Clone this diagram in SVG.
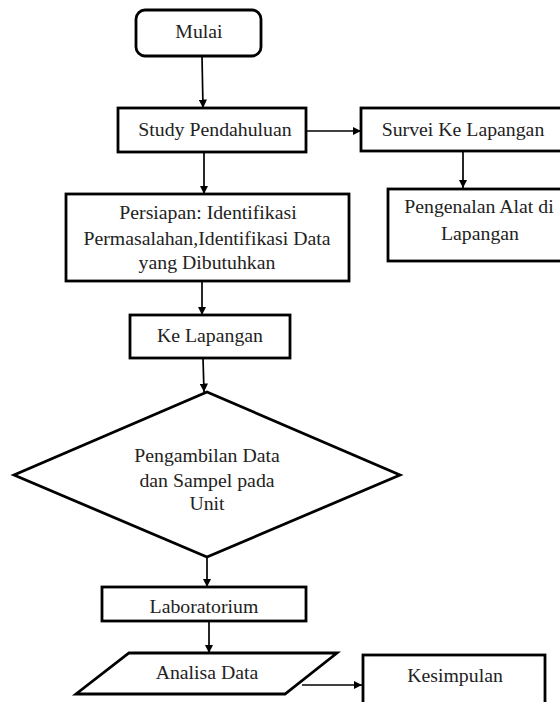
<svg xmlns="http://www.w3.org/2000/svg" width="560" height="702" viewBox="0 0 560 702">
<style>
.box{fill:#fff;stroke:#000;stroke-width:2.8}
.t{font-size:19.8px;fill:#222;text-anchor:middle}
.c{stroke:#000;stroke-width:1.7;fill:none;marker-end:url(#ah)}
</style>
<defs>
<marker id="ah" viewBox="0 0 10 10" refX="10" refY="5" markerWidth="8.5" markerHeight="8.5" markerUnits="userSpaceOnUse" orient="auto"><path d="M0,0 L10,5 L0,10 z" fill="#000"/></marker>
</defs>
<rect width="560" height="702" fill="#fff"/>
<g id="connectors">
<path class="c" d="M202,56 L203,108"/>
<path class="c" d="M306,131 L361,131"/>
<path class="c" d="M463,151 L463,188"/>
<path class="c" d="M204,152 L204,194"/>
<path class="c" d="M202,281 L202,315"/>
<path class="c" d="M203,358 L204,392"/>
<path class="c" d="M207,557 L207,587"/>
<path class="c" d="M209,621 L209,653"/>
<path class="c" d="M302,685 L362,685"/>
</g>
<g font-family="'Liberation Serif', 'DejaVu Serif', serif">
<g id="mulai"><rect class="box" x="136" y="10" width="125" height="46" rx="9"/><text class="t" x="199" y="38">Mulai</text></g>
<g id="study"><rect class="box" x="118" y="108" width="188" height="44"/><text class="t" x="215" y="136">Study Pendahuluan</text></g>
<g id="survei"><rect class="box" x="361" y="108" width="210" height="43"/><text class="t" x="463" y="136">Survei Ke Lapangan</text></g>
<g id="pengenalan"><rect class="box" x="388" y="189" width="183" height="72"/><text class="t" x="479" y="213">Pengenalan Alat di</text><text class="t" x="480" y="240">Lapangan</text></g>
<g id="persiapan"><rect class="box" x="66" y="194" width="283" height="87"/><text class="t" x="208" y="219">Persiapan: Identifikasi</text><text class="t" x="207" y="245">Permasalahan,Identifikasi Data</text><text class="t" x="207" y="269">yang Dibutuhkan</text></g>
<g id="kelapangan"><rect class="box" x="130" y="315" width="160" height="43"/><text class="t" x="210" y="342">Ke Lapangan</text></g>
<g id="pengambilan"><polygon class="box" points="207,392 400,475 207,557 14,475"/><text class="t" x="207" y="462">Pengambilan Data</text><text class="t" x="207" y="487">dan Sampel pada</text><text class="t" x="207" y="510">Unit</text></g>
<g id="laboratorium"><rect class="box" x="102" y="587" width="204" height="34"/><text class="t" x="204" y="613">Laboratorium</text></g>
<g id="analisa"><polygon class="box" points="129,653 337,653 285,694 76,694"/><text class="t" x="207" y="679">Analisa Data</text></g>
<g id="kesimpulan"><rect class="box" x="363" y="655" width="182" height="60"/><text class="t" x="455" y="682">Kesimpulan</text></g>
</g>
</svg>
